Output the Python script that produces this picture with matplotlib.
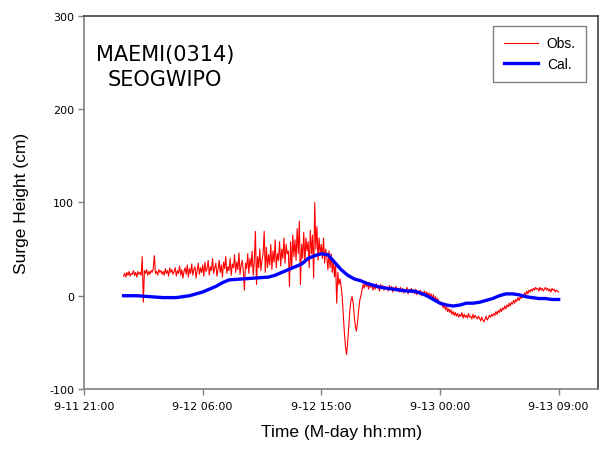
import numpy as np
import pandas as pd
import matplotlib
matplotlib.use("Agg")
import matplotlib.pyplot as plt
import matplotlib.dates as mdates

plt.rcParams["axes.unicode_minus"] = False

# observed surge, 5-minute samples from 9-12 00:00 to 9-13 09:00 (cm), one row per hour
obs_start = "2003-09-12 00:00"
obs = [
    21, 24, 20, 25, 22, 26, 21, 24, 23, 27, 22, 25,
    20, 26, 23, 25, 22, 42, -7, 27, 24, 28, 22, 26,
    23, 27, 25, 29, 43, 24, 26, 22, 28, 25, 27, 23,
    26, 22, 29, 24, 27, 21, 30, 25, 28, 23, 26, 30,
    21, 27, 24, 32, 22, 28, 19, 26, 30, 23, 33, 20,
    29, 24, 34, 22, 28, 31, 19, 27, 35, 23, 30, 25,
    33, 21, 36, 26, 29, 38, 22, 31, 27, 40, 24, 30,
    35, 21, 28, 38, 25, 33, 20, 36, 29, 42, 24, 31,
    27, 40, 22, 34, 30, 44, 25, 36, 28, 46, 23, 33,
    38, 26, 6, 35, 29, 45, 24, 40, 31, 48, 22, 37,
    69, 12, 42, 30, 50, 27, 38, 45, 69, 25, 52, 30,
    44, 33, 55, 28, 48, 36, 60, 30, 45, 38, 58, 32,
    50, 40, 62, 35, 55, 45, 48, 10, 58, 30, 65, 42,
    60, 38, 72, 45, 80, 12, 55, 40, 68, 35, 62, 48,
    58, 30, 70, 45, 65, 19, 100, 50, 74, 38, 62, 44,
    55, 40, 62, 35, 50, 42, 28, 48, 30, 45, 25, 38,
    20, 35, -8, 25, 12, 18, 10, -1, -20, -40, -55, -63,
    -50, -32, -15, -5, -1, -8, -22, -33, -38, -28, -15, -5,
    0, 6, 12, 8, 15, 10, 13, 7, 14, 9, 12, 6,
    11, 7, 13, 8, 10, 5, 12, 9, 11, 6, 10, 8,
    9, 5, 11, 7, 10, 4, 9, 6, 10, 5, 8, 4,
    9, 4, 8, 3, 7, 5, 9, 2, 7, 4, 8, 3,
    6, 2, 7, 1, 5, 3, 6, 0, 4, 2, 5, -1,
    4, 0, 3, -2, 2, -3, 1, -5, -1, -6, -3, -8,
    -6, -10, -8, -13, -10, -15, -12, -17, -14, -18, -15, -20,
    -17, -21, -18, -22, -19, -23, -20, -22, -18, -24, -20, -23,
    -21, -24, -19, -23, -22, -25, -20, -24, -21, -23, -25, -22,
    -24, -27, -23, -26, -28, -25, -22, -26, -24, -21, -23, -20,
    -22, -19, -21, -17, -20, -16, -18, -14, -17, -13, -15, -11,
    -14, -10, -12, -8, -11, -7, -9, -5, -8, -4, -6, -2,
    -5, -1, -3, 1, -1, 3, 1, 5, 2, 6, 4, 7,
    5, 8, 6, 9, 7, 8, 5, 9, 6, 8, 5, 7,
    9, 6, 8, 5, 7, 4, 8, 6, 7, 4, 6, 5,
    4,
]

# computed surge, half-hourly from 9-12 00:00 to 9-13 09:00 (cm)
cal_start = "2003-09-12 00:00"
cal = [
    0, 0, 0, -0.5, -1, -1.5, -2, -2, -2, -1, 0, 2,
    4, 7, 10, 14, 17, 17.5, 18, 18.5, 19, 19.5, 20, 22,
    25, 28, 31, 34, 40, 43, 45, 44, 36, 28, 22, 18,
    16, 13, 11, 9, 8, 7, 6, 5, 5, 3, 0, -4,
    -8, -10, -11, -10, -8, -8, -7, -5, -3, 0, 2, 2,
    1, -1, -2, -3, -3, -4, -4,
]

obs_t = pd.date_range(obs_start, periods=len(obs), freq="5min")
cal_t = pd.date_range(cal_start, periods=len(cal), freq="30min")

x_ticks = pd.date_range("2003-09-11 21:00", "2003-09-13 09:00", freq="9h")
y_ticks = [-100, 0, 100, 200, 300]

fig = plt.figure(figsize=(6.01, 4.52), dpi=100)
ax = fig.add_axes([0.1398, 0.1372, 0.8555, 0.8252])

ax.plot(obs_t, obs, color="#ff0000", lw=0.8, label="Obs.")
ax.plot(cal_t, cal, color="#0000ff", lw=2.4, label="Cal.")

ax.set_xlim(pd.Timestamp("2003-09-11 21:00"), pd.Timestamp("2003-09-13 12:00"))
ax.set_ylim(-100, 300)
ax.set_xticks(x_ticks)
ax.set_yticks(y_ticks)
ax.xaxis.set_major_formatter(mdates.DateFormatter("%-m-%d %H:%M"))

for side in ["left", "bottom"]:
    ax.spines[side].set_color("#808080")
    ax.spines[side].set_linewidth(1.2)
for side in ["top", "right"]:
    ax.spines[side].set_color("#404040")
    ax.spines[side].set_linewidth(1.2)

ax.tick_params(direction="out", length=4, width=1, color="#808080",
               labelsize=8, pad=3, labelcolor="black")
ax.tick_params(axis="x", pad=5)

lab = dict(family="Liberation Sans", fontsize=12.5)
ax.set_xlabel("Time (M-day hh:mm)", labelpad=9, **lab)
ax.set_ylabel("Surge Height (cm)", labelpad=14.5, **lab)

ax.text(0.158, 0.925, "MAEMI(0314)\nSEOGWIPO", transform=ax.transAxes,
        ha="center", va="top", fontsize=15, linespacing=1.3)

leg = ax.legend(loc="upper right", bbox_to_anchor=(0.9767, 0.9732),
                borderaxespad=0, fancybox=False, frameon=True,
                prop={"family": "Liberation Sans", "size": 10},
                handlelength=2.5, handletextpad=0.6, labelspacing=0.5,
                borderpad=0.75)
leg.get_frame().set_edgecolor("#606060")
leg.get_frame().set_linewidth(1.0)

fig.savefig("out.png", dpi=100)
